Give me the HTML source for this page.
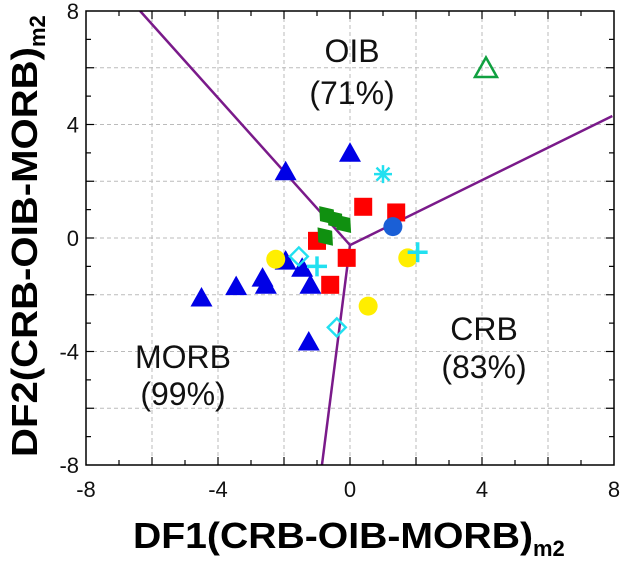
<!DOCTYPE html>
<html><head><meta charset="utf-8"><style>
html,body{margin:0;padding:0;background:#fff;}
svg{display:block;font-family:"Liberation Sans",sans-serif;}
</style></head><body>
<svg id="chart" width="622" height="561" viewBox="0 0 622 561" xmlns="http://www.w3.org/2000/svg">
<g id="grid"></g>
<g id="bounds"></g>
<g id="marks"></g>
<rect x="86" y="11" width="528" height="454" fill="none" stroke="#000" stroke-width="1.5"/>
<g id="ticks"></g>
<g font-size="32" text-anchor="middle" fill="#111">
<text x="352" y="62">OIB</text>
<text x="352" y="104">(71%)</text>
<text x="484" y="340">CRB</text>
<text x="484" y="378">(83%)</text>
<text x="183" y="368">MORB</text>
<text x="183" y="405">(99%)</text>
</g>
<text x="133" y="548" font-size="36" font-weight="bold"><tspan textLength="400" lengthAdjust="spacingAndGlyphs">DF1(CRB-OIB-MORB)</tspan><tspan font-size="22" dy="8">m2</tspan></text>
<text transform="translate(37,457) rotate(-90)" font-size="36" font-weight="bold"><tspan textLength="410" lengthAdjust="spacingAndGlyphs">DF2(CRB-OIB-MORB)</tspan><tspan font-size="22" dy="8">m2</tspan></text>
</svg>
<script>
const xTicks=[-8,-4,0,4,8];
const yTicks=[-8,-4,0,4,8];
const gridVals=[-6,-4,-2,0,2,4,6];
const boundaryCenter=[0,-0.25];
const boundaryEnds=[[-6.36,8],[7.95,4.3],[-0.85,-8]];
const triX=[0,-1.95,-4.5,-3.45,-2.55,-2.65,-1.2,-1.45,-1.95,-1.25];
const triY=[2.95,2.3,-2.15,-1.75,-1.7,-1.45,-1.7,-1.1,-0.85,-3.7];
const sqX=[0.4,1.4,-1.0,-0.1,-0.6];
const sqY=[1.1,0.9,-0.1,-0.7,-1.65];
const yelX=[-2.25,1.75,0.55];
const yelY=[-0.75,-0.7,-2.4];
const bluX=[1.3];
const bluY=[0.4];
const gdX=[-0.7,-0.45,-0.2,-0.75];
const gdY=[0.8,0.65,0.5,0.05];
const cdX=[-1.55,-0.4];
const cdY=[-0.65,-3.15];
const plusX=[-1.0,2.05];
const plusY=[-1.0,-0.5];
const astX=[1.0];
const astY=[2.25];
const otX=[4.12];
const otY=[5.94];

const NS='http://www.w3.org/2000/svg';
const X=v=>350+v*33;
const Y=v=>238-v*28.375;
function mk(tag,attrs,parent){const e=document.createElementNS(NS,tag);for(const k in attrs)e.setAttribute(k,attrs[k]);parent.appendChild(e);return e;}
const grid=document.getElementById('grid'),ticks=document.getElementById('ticks'),bounds=document.getElementById('bounds'),marks=document.getElementById('marks');
gridVals.forEach(v=>{
 let l=mk('line',{x1:X(v),x2:X(v),y1:11,y2:465,stroke:'#bbb','stroke-dasharray':'4,3','stroke-width':1},grid);
 
 
 let h=mk('line',{x1:86,x2:614,y1:Y(v),y2:Y(v),stroke:'#bbb','stroke-dasharray':'4,3','stroke-width':1},grid);
 
 
});
for(let v=-7;v<=7;v++){
 const len=(v%2===0)?8:5;
 let a=mk('line',{x1:X(v),x2:X(v),y1:465,y2:465-len,stroke:'#000','stroke-width':1.2},ticks);
 
 
 let b=mk('line',{x1:X(v),x2:X(v),y1:11,y2:11+len,stroke:'#000','stroke-width':1.2},ticks);
 
 
 let c=mk('line',{x1:86,x2:86+len,y1:Y(v),y2:Y(v),stroke:'#000','stroke-width':1.2},ticks);
 
 
 let d=mk('line',{x1:614,x2:614-len,y1:Y(v),y2:Y(v),stroke:'#000','stroke-width':1.2},ticks);
 
 
}
xTicks.forEach(v=>{
 let t=mk('text',{x:X(v),y:497,'font-size':22,'text-anchor':'middle',fill:'#111'},ticks);
 t.textContent=String(v);
 
 
});
yTicks.forEach(v=>{
 let t=mk('text',{x:79,y:Y(v)+8,'font-size':22,'text-anchor':'end',fill:'#111'},ticks);
 t.textContent=String(v);
 
 
});
boundaryEnds.forEach(p=>{
 let l=mk('line',{x1:X(boundaryCenter[0]),y1:Y(boundaryCenter[1]),x2:X(p[0]),y2:Y(p[1]),stroke:'#7a1a8a','stroke-width':2.5},bounds);
 
 
});
function tri(x,y,fill,stroke,name){const cx=X(x),cy=Y(y);let p=mk('polygon',{points:`${cx},${cy-12} ${cx-11},${cy+7.5} ${cx+11},${cy+7.5}`,fill:fill,stroke:stroke,'stroke-width':stroke==='none'?0:2.5},marks);}
triX.forEach((x,i)=>tri(x,triY[i],'#0000e6','none','triangle-point'));
sqX.forEach((x,i)=>{let r=mk('rect',{x:X(x)-9,y:Y(sqY[i])-9,width:18,height:18,fill:'#f00'},marks);});
yelX.forEach((x,i)=>{let c=mk('circle',{cx:X(x),cy:Y(yelY[i]),r:9.5,fill:'#ffee00'},marks);});
bluX.forEach((x,i)=>{let c=mk('circle',{cx:X(x),cy:Y(bluY[i]),r:9.5,fill:'#1a5fd6'},marks);});
gdX.forEach((x,i)=>{const cx=X(x),cy=Y(gdY[i]);let p=mk('polygon',{points:`${cx},${cy-12} ${cx+9},${cy} ${cx},${cy+12} ${cx-9},${cy}`,fill:'#109010',transform:`rotate(-40 ${cx} ${cy})`},marks);});
cdX.forEach((x,i)=>{const cx=X(x),cy=Y(cdY[i]);let p=mk('polygon',{points:`${cx},${cy-9} ${cx+9},${cy} ${cx},${cy+9} ${cx-9},${cy}`,fill:'none',stroke:'#22e0f0','stroke-width':2.4},marks);});
plusX.forEach((x,i)=>{const cx=X(x),cy=Y(plusY[i]);let p=mk('path',{d:`M${cx-10},${cy}H${cx+10}M${cx},${cy-10}V${cy+10}`,stroke:'#22e0f0','stroke-width':3.5},marks);});
astX.forEach((x,i)=>{const cx=X(x),cy=Y(astY[i]);let p=mk('path',{d:`M${cx-9},${cy}H${cx+9}M${cx},${cy-9}V${cy+9}M${cx-6.5},${cy-6.5}L${cx+6.5},${cy+6.5}M${cx-6.5},${cy+6.5}L${cx+6.5},${cy-6.5}`,stroke:'#22e0f0','stroke-width':2.5},marks);});
otX.forEach((x,i)=>tri(x,otY[i],'none','#10a040','open-triangle-point'));
</script>
</body></html>
